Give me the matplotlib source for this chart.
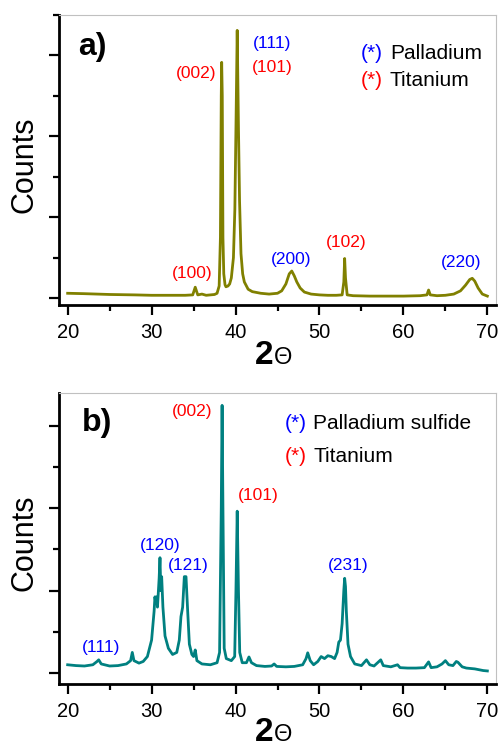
import matplotlib
matplotlib.use("Agg")
import matplotlib.pyplot as plt
from matplotlib.ticker import MultipleLocator

plt.rcParams['font.family'] = ['Liberation Sans', 'DejaVu Sans']

# panel a) Pd on Ti (2theta, counts in tick units)
two_theta_a = [20, 22, 25, 28, 30, 32, 34, 34.9, 35.2, 35.5, 36, 36.5, 37.5, 37.8, 38.05,
               38.2, 38.3, 38.35, 38.42, 38.5, 38.6, 38.75, 38.86, 39.1, 39.3, 39.5, 39.75,
               39.92, 40.05, 40.2, 40.35, 40.48, 40.65, 40.85, 41.05, 41.5, 42, 43, 44, 45,
               45.5, 46, 46.4, 46.7, 47.0, 47.3, 47.7, 48.2, 49, 50, 51, 52, 52.7, 52.9,
               53.0, 53.1, 53.3, 54, 56, 58, 60, 62, 62.8, 63.0, 63.2, 64, 65, 66, 66.8,
               67.4, 67.9, 68.2, 68.5, 68.9, 69.4, 70]
counts_a = [0.12, 0.11, 0.09, 0.08, 0.07, 0.07, 0.07, 0.08, 0.27, 0.08, 0.10, 0.07, 0.09, 0.12, 0.3,
            1.5, 5.0, 5.83, 5.0, 1.5, 0.6, 0.33, 0.28, 0.3, 0.35, 0.5, 1.0,
            2.2, 4.2, 6.62, 4.2, 2.4, 1.1, 0.6, 0.4, 0.22, 0.16, 0.12, 0.10, 0.12,
            0.18, 0.35, 0.6, 0.67, 0.55, 0.4, 0.25, 0.15, 0.10, 0.08, 0.07, 0.07, 0.08, 0.4,
            0.98, 0.5, 0.08, 0.06, 0.05, 0.05, 0.05, 0.06, 0.08, 0.2, 0.08, 0.06, 0.07, 0.10, 0.18,
            0.32, 0.46, 0.49, 0.42, 0.25, 0.10, 0.05]

# panel b) PdS on Ti
two_theta_b = [20, 21, 22, 23, 23.5, 23.7, 24, 25, 26, 27, 27.5, 27.7, 27.9, 28.5, 29, 29.5,
               30, 30.3, 30.4, 30.5, 30.6, 30.7, 30.9, 31.0, 31.1, 31.2, 31.35, 31.6, 32,
               32.5, 33, 33.3, 33.5, 33.7, 33.9, 34.1, 34.3, 34.5, 34.8, 35.0, 35.2, 35.4,
               36, 37, 37.8, 38.1, 38.3, 38.4, 38.5, 38.65, 38.9, 39.5, 39.9, 40.05, 40.2,
               40.35, 40.5, 40.8, 41.3, 41.6, 41.9, 42.5, 43.5, 44.3, 44.6, 44.9, 46, 47,
               48, 48.4, 48.6, 48.9, 49.3, 49.8, 50.2, 50.6, 51, 51.4, 51.8, 52.1, 52.3,
               52.5, 52.7, 52.9, 53.0, 53.1, 53.2, 53.4, 53.7, 54.2, 55, 55.6, 56, 56.5,
               57.3, 57.6, 58.5, 59.3, 59.6, 60.5, 61.5, 62.5, 63.0, 63.3, 64, 64.6, 65.0,
               65.4, 65.9, 66.3, 66.5, 67, 67.5, 68.5, 69.5, 70]
counts_b = [0.2, 0.18, 0.17, 0.2, 0.28, 0.32, 0.22, 0.17, 0.18, 0.22, 0.3, 0.5, 0.3, 0.24, 0.28, 0.4,
            0.8, 1.5, 1.85, 1.7, 1.85, 1.6, 2.3, 2.8, 2.0, 2.34, 1.6, 0.9, 0.6,
            0.45, 0.5, 0.8, 1.37, 1.6, 2.34, 2.34, 1.5, 0.7, 0.45, 0.4, 0.56, 0.3,
            0.22, 0.2, 0.25, 0.5, 4.0, 6.5, 4.0, 0.6, 0.35, 0.3, 0.4, 2.0, 3.93,
            2.0, 0.5, 0.25, 0.25, 0.39, 0.25, 0.18, 0.16, 0.17, 0.22, 0.16, 0.15, 0.16,
            0.2, 0.35, 0.49, 0.3, 0.2, 0.28, 0.4, 0.35, 0.42, 0.4, 0.35, 0.5, 0.75,
            0.8, 1.2, 2.0, 2.3, 2.1, 1.5, 0.7, 0.4, 0.22, 0.18, 0.32, 0.2, 0.17,
            0.32, 0.18, 0.15, 0.2, 0.13, 0.12, 0.12, 0.13, 0.27, 0.13, 0.15, 0.22, 0.3,
            0.2, 0.18, 0.28, 0.26, 0.15, 0.12, 0.10, 0.06, 0.05]

# peak labels: (text, x, y, colour)
labels_a = [("(002)", 35.29, 5.56, "red"), ("(111)", 44.34, 6.30, "blue"),
            ("(101)", 44.34, 5.70, "red"), ("(100)", 34.81, 0.62, "red"),
            ("(200)", 46.6, 0.96, "blue"), ("(102)", 53.16, 1.38, "red"),
            ("(220)", 66.86, 0.89, "blue")]
labels_b = [("(002)", 34.81, 6.35, "red"), ("(101)", 42.67, 4.30, "red"),
            ("(120)", 31.0, 3.09, "blue"), ("(121)", 34.33, 2.60, "blue"),
            ("(231)", 53.4, 2.60, "blue"), ("(111)", 23.97, 0.61, "blue")]

legend_a = [("Palladium", "blue"), ("Titanium", "red")]
legend_b = [("Palladium sulfide", "blue"), ("Titanium", "red")]

W, H = 499, 747
fig = plt.figure(figsize=(W / 100, H / 100), dpi=100)


def panel(top, bottom, ylim, x, y, col, labels, legend, leg_x, leg_y, tag, tag_y):
	ax = fig.add_axes([59 / W, 1 - bottom / H, 437 / W, (bottom - top) / H])
	ax.plot(x, y, color=col, linewidth=2.0)
	ax.set_xlim(18.97, 71.03)
	ax.set_ylim(*ylim)
	ax.xaxis.set_major_locator(MultipleLocator(10))
	ax.xaxis.set_minor_locator(MultipleLocator(5))
	ax.yaxis.set_major_locator(MultipleLocator(2))
	ax.yaxis.set_minor_locator(MultipleLocator(1))
	ax.tick_params(which='major', length=7, width=1.6, labelsize=14.5, pad=6)
	ax.tick_params(which='minor', length=4, width=1.6)
	ax.tick_params(axis='y', labelleft=False)
	for s in ['left', 'bottom']:
		ax.spines[s].set_linewidth(2)
	for s in ['top', 'right']:
		ax.spines[s].set_linewidth(0.8)
		ax.spines[s].set_color('#c0c0c0')
	for txt, lx, ly, c in labels:
		ax.text(lx, ly, txt, color=c, fontsize=12.5, ha='center', va='center')
	for i, (name, c) in enumerate(legend):
		ax.text(leg_x[0], leg_y[i], "(*)", color=c, fontsize=15, ha='left', va='center')
		ax.text(leg_x[1], leg_y[i], name, color='black', fontsize=15, ha='left', va='center')
	ax.text(tag[0], tag_y, tag[1], transform=ax.transAxes, fontsize=23,
	        fontweight='bold', ha='left', va='center')
	return ax


panel(15, 305, (-0.17, 7.0), two_theta_a, counts_a, '#808000', labels_a, legend_a,
      (54.95, 58.4), (6.05, 5.38), (0.0435, "a)"), 0.89)
panel(393, 684, (-0.267, 6.8), two_theta_b, counts_b, '#008080', labels_b, legend_b,
      (45.89, 49.23), (6.07, 5.25), (0.0526, "b)"), 0.897)

for cy, base in [(165, 364), (543, 741)]:
	fig.text(24 / W, 1 - cy / H, "Counts", rotation=90, fontsize=22, ha='center', va='center')
	fig.text(273 / W, 1 - base / H, "2", fontsize=24, fontweight='bold', ha='right', va='baseline')
	fig.text(274 / W, 1 - base / H, "\u0398", fontsize=17, ha='left', va='baseline')

fig.savefig("out.png", dpi=100)
